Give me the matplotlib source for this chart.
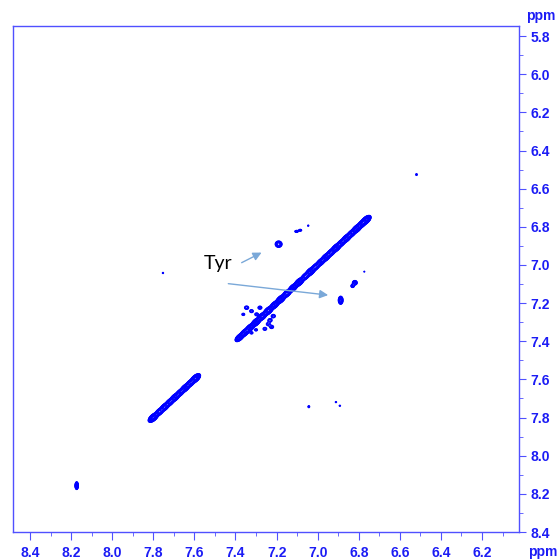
import numpy as np
import matplotlib.pyplot as plt
from matplotlib.ticker import MultipleLocator, FormatStrFormatter

# diagonal peaks (ppm, x = y) and their heights
diag_ppm = [7.595, 7.62, 7.645, 7.67, 7.695, 7.72, 7.745, 7.77, 7.80,
            6.765, 6.785, 6.81, 6.835, 6.86, 6.885, 6.91, 6.935, 6.96, 6.985,
            7.01, 7.035, 7.06, 7.09, 7.12, 7.15, 7.18, 7.21, 7.24, 7.27,
            7.30, 7.33, 7.355, 7.38]
diag_amp = [1.8, 0.9, 1.2, 0.8, 1.2, 0.9, 1.1, 0.9, 1.8,
            1.8, 1.1, 1.6, 0.9, 1.3, 0.8, 1.5, 0.9, 1.2, 0.8,
            0.7, 1.5, 0.7, 1.3, 1.0, 0.9, 1.3, 1.0, 1.4, 1.1,
            1.3, 1.0, 1.0, 0.8]

# off-diagonal / isolated peaks: F2 (x), F1 (y), height, widths
cross_x = [7.190, 6.888, 7.103, 7.085, 7.046, 6.819, 6.830, 6.773,
           7.753, 7.043, 6.911, 6.892, 8.173, 6.519,
           7.346, 7.322, 7.281, 7.297, 7.362, 7.232, 7.241, 7.224,
           7.257, 7.216, 7.322, 7.300]
cross_y = [6.891, 7.185, 6.824, 6.818, 6.794, 7.093, 7.110, 7.035,
           7.042, 7.743, 7.719, 7.738, 8.157, 6.526,
           7.224, 7.242, 7.224, 7.259, 7.259, 7.290, 7.310, 7.325,
           7.335, 7.268, 7.356, 7.340]
cross_amp = [0.30, 0.35, 0.14, 0.12, 0.08, 0.22, 0.14, 0.07,
             0.08, 0.10, 0.08, 0.08, 0.45, 0.09,
             0.12, 0.10, 0.11, 0.10, 0.09, 0.12, 0.10, 0.11,
             0.10, 0.12, 0.09, 0.09]
cross_sx = [0.009, 0.006, 0.006, 0.006, 0.004, 0.007, 0.006, 0.004,
            0.004, 0.004, 0.004, 0.004, 0.004, 0.004,
            0.008, 0.008, 0.008, 0.008, 0.007, 0.008, 0.008, 0.008,
            0.008, 0.008, 0.007, 0.007]
cross_sy = [0.009, 0.011, 0.004, 0.004, 0.004, 0.007, 0.006, 0.004,
            0.004, 0.005, 0.004, 0.004, 0.010, 0.005,
            0.007, 0.007, 0.007, 0.007, 0.006, 0.007, 0.007, 0.007,
            0.007, 0.007, 0.006, 0.006]

x_ticks = [8.4, 8.2, 8.0, 7.8, 7.6, 7.4, 7.2, 7.0, 6.8, 6.6, 6.4, 6.2]
y_ticks = [5.8, 6.0, 6.2, 6.4, 6.6, 6.8, 7.0, 7.2, 7.4, 7.6, 7.8, 8.0, 8.2, 8.4]

blue = "#1c1cf5"
axis_blue = "#5050ff"
contour_blue = "#0000ff"
arrow_blue = "#7aa8d8"

# build the 2D surface from the peak list
xs = np.linspace(6.0, 8.5, 800)
ys = np.linspace(5.7, 8.45, 800)
X, Y = np.meshgrid(xs, ys)
Z = np.zeros_like(X)

s_along, s_across = 0.012, 0.006
for d, a in zip(diag_ppm, diag_amp):
    u = ((X - d) + (Y - d)) / np.sqrt(2)
    v = ((X - d) - (Y - d)) / np.sqrt(2)
    Z += a * np.exp(-0.5 * (u / s_along) ** 2 - 0.5 * (v / s_across) ** 2)

for cx, cy, a, sx, sy in zip(cross_x, cross_y, cross_amp, cross_sx, cross_sy):
    Z += a * np.exp(-0.5 * ((X - cx) / sx) ** 2 - 0.5 * ((Y - cy) / sy) ** 2)

levels = 0.05 * 1.25 ** np.arange(18)

fig = plt.figure(figsize=(5.6, 5.6), dpi=100)
ax = fig.add_axes([0.0232, 0.05, 0.9036, 0.9036])
ax.contour(X, Y, Z, levels=levels, colors=contour_blue, linewidths=0.7)

ax.set_xlim(8.483, 6.02)
ax.set_ylim(8.4, 5.747)

ax.xaxis.set_minor_locator(MultipleLocator(0.1))
ax.yaxis.set_minor_locator(MultipleLocator(0.1))
ax.set_xticks(x_ticks)
ax.set_yticks(y_ticks)
ax.xaxis.set_major_formatter(FormatStrFormatter("%.1f"))
ax.yaxis.set_major_formatter(FormatStrFormatter("%.1f"))

ax.yaxis.tick_right()
ax.tick_params(axis="both", which="both", direction="out", colors=axis_blue,
               labelcolor=blue, labelsize=10)
ax.tick_params(axis="x", which="major", length=6, pad=4)
ax.tick_params(axis="x", which="minor", length=3)
ax.tick_params(axis="y", which="major", length=5, pad=3)
ax.tick_params(axis="y", which="minor", length=3)
for lab in ax.get_xticklabels() + ax.get_yticklabels():
    lab.set_fontweight("bold")
    lab.set_family("Liberation Sans")
for sp in ax.spines.values():
    sp.set_color(axis_blue)
    sp.set_linewidth(1.0)

fig.text(0.969, 0.014, "ppm", color=blue, fontsize=10, fontweight="bold",
         family="Liberation Sans", ha="center", va="center")
fig.text(0.965, 0.972, "ppm", color=blue, fontsize=10, fontweight="bold",
         family="Liberation Sans", ha="center", va="center")

ax.text(7.485, 6.99, "Tyr", fontsize=14, color="black", family="Lato",
        ha="center", va="center")
arrow = dict(arrowstyle="-|>,head_length=0.5,head_width=0.25", color=arrow_blue,
             lw=1.0, shrinkA=0, shrinkB=0)
ax.annotate("", xy=(7.273, 6.935), xytext=(7.370, 6.988), arrowprops=arrow)
ax.annotate("", xy=(6.949, 7.158), xytext=(7.435, 7.098), arrowprops=arrow)

fig.savefig("out.png", dpi=100)
